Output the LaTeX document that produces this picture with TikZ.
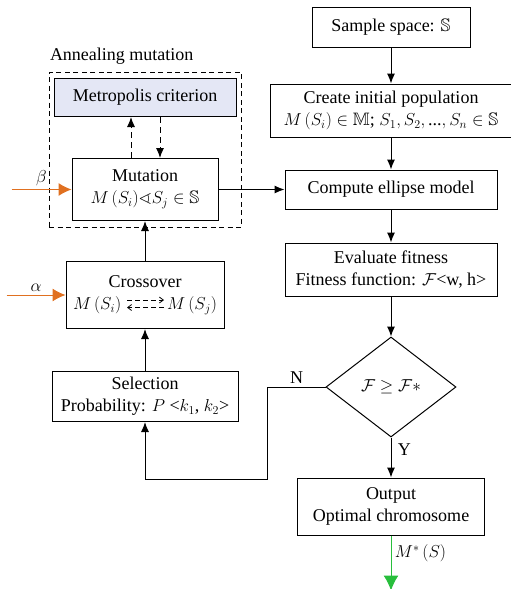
\documentclass[tikz,border=0pt]{standalone}
\usepackage{amsmath,amssymb}
\usepackage{fontspec}
\setmainfont{Liberation Serif}
\usetikzlibrary{shapes,arrows.meta,positioning,fit}

\definecolor{metrofill}{RGB}{228,231,245}
\definecolor{inorange}{RGB}{224,112,32}
\definecolor{outgreen}{RGB}{40,190,60}

\begin{document}
\begin{tikzpicture}[font=\fontsize{18}{22}\selectfont,
    line width=1pt,
    >={Latex[length=10pt,width=8pt]}]

\useasboundingbox (0,0) rectangle (511pt,-589pt);

% Sample space
\node[draw,
    minimum width=158pt,
    minimum height=40pt] (block1) at (391pt,-27pt) {Sample space: $\mathbb{S}$};

% Initial population
\node[draw,
    below=36pt of block1,
    minimum width=242pt,
    minimum height=53pt,
    inner sep=2pt,
    align=center
] (block2) {Create initial population\\ $M\,(S_i)\in\mathbb{M}$; $S_1, S_2,\text{...}, S_n\in\mathbb{S}$};

% Ellipse model
\node[draw,
    below=32pt of block2,
    minimum width=212pt,
    minimum height=39pt
] (block3) {Compute ellipse model};

% Fitness
\node[draw,
    below=33pt of block3,
    minimum width=212pt,
    minimum height=53pt,
    align=center
] (block4) {Evaluate fitness\\ Fitness function: $\mathcal{F}$<w, h>};

% Conditions test
\node[draw,
    diamond,
    below=40pt of block4,
    minimum width=130pt,
    minimum height=100pt,
    inner sep=0] (block6) {$\mathcal{F}\geq\mathcal{F}*$};

% Output block
\node[draw,
    below=40pt of block6,
    minimum width=187pt,
    minimum height=57pt,
    align=center
] (block12) {Output\\ Optimal chromosome};

% Mutation
\node[draw,
    left=66pt of block3,
    minimum width=146pt,
    minimum height=62pt,
    align=center
] (block7) {Mutation\\ $M\,(S_i)\sphericalangle S_j\in\mathbb{S}$};

% Metropolis
\node[draw,
    fill=metrofill,
    above=41pt of block7,
    minimum width=182pt,
    minimum height=38pt
] (block8) {Metropolis criterion};

% Annealing frame
\node[draw,
    dash pattern=on 5pt off 3.5pt,
    fit=(block7)(block8),
    inner xsep=4.5pt,
    inner ysep=6pt] (block9) {};
\node[anchor=south west,
    inner sep=1pt,
    yshift=6pt] (block20) at (block9.north west) {Annealing mutation};

% Crossover
\node[draw,
    below=40pt of block7,
    minimum width=158pt,
    minimum height=67pt,
    align=center
] (block10) {Crossover\\ $M\,(S_i)\hspace{46pt}M\,(S_j)$};

% Selection
\node[draw,
    below=42pt of block10,
    minimum width=186pt,
    minimum height=50pt,
    align=center
] (block11) {Selection\\ Probability: $P$ <$k_1$, $k_2$>};

\node[coordinate,below=57pt of block11] (block16) {};
\node[coordinate,left=58pt of block6] (block17) {};
\node[coordinate,left=59pt of block10] (block18) {};
\node[coordinate,left=60pt of block7] (block19) {};
\node[coordinate,below=55pt of block12] (block21) {};

% Arrows
\draw[->] (block1) edge (block2)
    (block2) edge (block3)
    (block3) edge (block4)
    (block4) edge (block6)
    (block7) edge (block3)
    (block10) edge (block7)
    (block11) edge (block10);

\draw[->] (block6) -- (block12)
    node[pos=0.3,right,xshift=3pt]{Y};

\draw[->] (block6) -- (block17)
    node[midway,above]{N} |- (block16) -- (block11);

\draw[->,dash pattern=on 6pt off 4pt] ([xshift=-14pt]block7.north) -- ([xshift=-14pt]block7.north |- block8.south);
\draw[->,dash pattern=on 6pt off 4pt] ([xshift=15pt]block8.south) -- ([xshift=15pt]block8.south |- block7.north);

% exchange arrows in the crossover box
\draw[-{Straight Barb[length=4pt,width=6pt]},line width=0.8pt,dash pattern=on 5pt off 3pt]
    ([shift={(-18pt,-5pt)}]block10.center) -- ([shift={(19pt,-5pt)}]block10.center);
\draw[-{Straight Barb[length=4pt,width=6pt]},line width=0.8pt,dash pattern=on 5pt off 3pt]
    ([shift={(19pt,-12.5pt)}]block10.center) -- ([shift={(-18pt,-12.5pt)}]block10.center);

\draw[-{Latex[length=13pt,width=13pt]},inorange] (block18) -- (block10)
    node[midway,above,black]{$\alpha$};
\draw[-{Latex[length=13pt,width=13pt]},inorange] (block19) -- (block7)
    node[midway,above,black]{$\beta$};

\draw[-{Latex[length=15pt,width=15pt]},outgreen] (block12) -- (block21)
    node[pos=0.33,right,black]{$M^{*}\,(S)$};

\end{tikzpicture}
\end{document}
